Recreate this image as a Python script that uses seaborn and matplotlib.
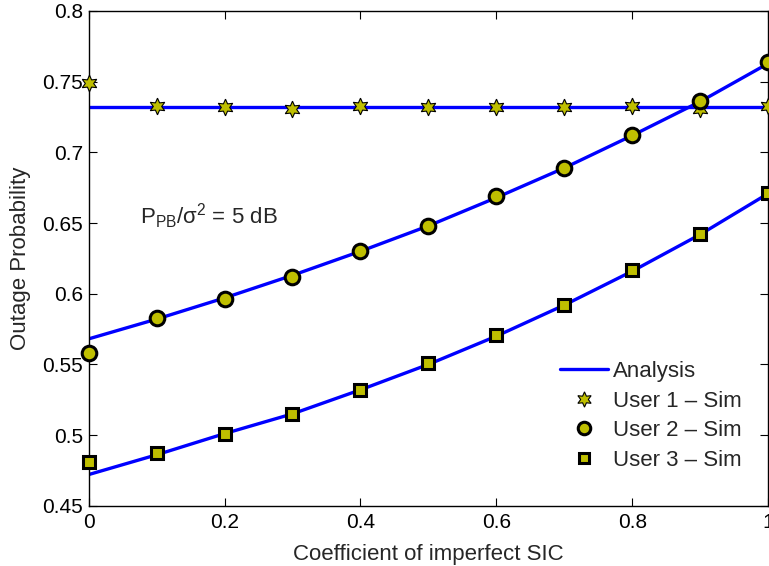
import numpy as np
import pandas as pd
import matplotlib
matplotlib.use("Agg")
import matplotlib.pyplot as plt
from matplotlib.lines import Line2D
import seaborn as sns

# Coefficient of imperfect SIC
sic_coef = [0.0, 0.1, 0.2, 0.3, 0.4, 0.5, 0.6, 0.7, 0.8, 0.9, 1.0]

# Analytical outage probability
user1_analysis = [0.732, 0.732, 0.732, 0.732, 0.732, 0.732, 0.732, 0.732, 0.732, 0.732, 0.732]
user2_analysis = [0.568, 0.582, 0.597, 0.613, 0.630, 0.648, 0.668, 0.689, 0.712, 0.736, 0.763]
user3_analysis = [0.472, 0.486, 0.501, 0.515, 0.532, 0.550, 0.570, 0.592, 0.616, 0.642, 0.671]

# Simulated outage probability
user1_sim = [0.749, 0.733, 0.732, 0.731, 0.733, 0.732, 0.732, 0.732, 0.733, 0.731, 0.733]
user2_sim = [0.558, 0.583, 0.596, 0.612, 0.630, 0.648, 0.669, 0.689, 0.712, 0.736, 0.764]
user3_sim = [0.481, 0.487, 0.501, 0.515, 0.532, 0.551, 0.571, 0.592, 0.617, 0.642, 0.671]

xticks = [0, 0.2, 0.4, 0.6, 0.8, 1]
xtick_labels = ["0", "0.2", "0.4", "0.6", "0.8", "1"]
yticks = [0.45, 0.5, 0.55, 0.6, 0.65, 0.7, 0.75, 0.8]
ytick_labels = ["0.45", "0.5", "0.55", "0.6", "0.65", "0.7", "0.75", "0.8"]

sns.set_style("ticks")
plt.rcParams["font.family"] = ["Liberation Sans", "DejaVu Sans"]
plt.rcParams["mathtext.default"] = "regular"

fig = plt.figure(figsize=(7.69, 5.66), dpi=100)
ax = fig.add_axes([0.1151, 0.1065, 0.8842, 0.8741])

face = "#BFBF00"
line_blue = "#0000FF"

analysis = pd.DataFrame({
    "x": sic_coef * 3,
    "y": user1_analysis + user2_analysis + user3_analysis,
    "user": ["U1"] * 11 + ["U2"] * 11 + ["U3"] * 11,
})
sns.lineplot(data=analysis, x="x", y="y", units="user", estimator=None,
             color=line_blue, lw=2.4, ax=ax, legend=False, zorder=2)

sim_styles = [
    (user1_sim, (6, 1, 0), 12, 0.8),
    (user2_sim, "o", 10.5, 2.2),
    (user3_sim, "s", 8, 2.2),
]
for vals, mk, ms, mew in sim_styles:
    sns.lineplot(x=sic_coef, y=vals, ax=ax, linestyle="none", marker=mk,
                 markersize=ms, markerfacecolor=face, markeredgecolor="black",
                 markeredgewidth=mew, color=face, legend=False, zorder=3,
                 clip_on=False)

ax.set_xlim(0, 1)
ax.set_ylim(0.45, 0.8)
ax.set_xticks(xticks)
ax.set_xticklabels(xtick_labels)
ax.set_yticks(yticks)
ax.set_yticklabels(ytick_labels)
ax.tick_params(direction="in", length=6, width=0.8, top=True, right=True,
               labelsize=15, colors="black")
ax.tick_params(axis="x", pad=5)
ax.tick_params(axis="y", pad=4)
for sp in ax.spines.values():
    sp.set_visible(True)
    sp.set_linewidth(1.0)
    sp.set_color("black")

ax.set_xlabel("Coefficient of imperfect SIC", fontsize=16, labelpad=9)
ax.set_ylabel("Outage Probability", fontsize=16, labelpad=8)

ax.text(0.075, 0.655, r"P$_{PB}$/$\sigma^{2}$ = 5 dB", fontsize=16,
        ha="left", va="center")

handles = [
    Line2D([], [], color=line_blue, lw=2.4),
    Line2D([], [], linestyle="none", marker=(6, 1, 0), markersize=11,
           markerfacecolor=face, markeredgecolor="black", markeredgewidth=0.8),
    Line2D([], [], linestyle="none", marker="o", markersize=9,
           markerfacecolor=face, markeredgecolor="black", markeredgewidth=2.2),
    Line2D([], [], linestyle="none", marker="s", markersize=7.5,
           markerfacecolor=face, markeredgecolor="black", markeredgewidth=2.2),
]
labels = ["Analysis", "User 1 \u2013 Sim", "User 2 \u2013 Sim", "User 3 \u2013 Sim"]
ax.legend(handles, labels, loc="upper left", bbox_to_anchor=(0.681, 0.31),
          frameon=False, fontsize=16, handlelength=2.15, handletextpad=0.2,
          labelspacing=0.38, borderaxespad=0)

fig.savefig("out.png", dpi=100)
